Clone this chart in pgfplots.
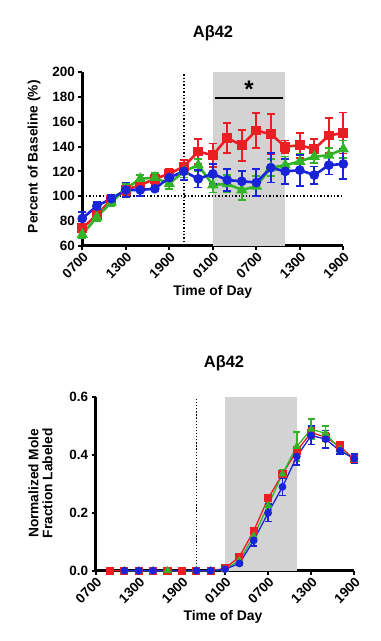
\documentclass[border=0pt]{standalone}
\usepackage{pgfplots}
\usepackage{pgfplotstable}
\pgfplotsset{compat=1.18}
\usepackage{fontspec}
\setmainfont{Liberation Sans}
\definecolor{cred}{RGB}{235,30,35}
\definecolor{cgreen}{RGB}{50,180,40}
\definecolor{cblue}{RGB}{25,35,215}
\definecolor{bandgray}{RGB}{211,211,211}

\pgfplotstableread{
x y e
0 74 3
2 85 3
4 97 3
6 105 4
8 109 3
10 114 5
12 118 4
14 124 5
16 136 10
18 133 9.5
20 147 12
22 141 12.5
24 153 14
26 150 16
28 140 5
30 141 10
32 138 8
34 149 14
36 151 16.5
}\topred
\pgfplotstableread{
x y e
0 69 3
2 83 3
4 95 3
6 106 4
8 114 3
10 115 4
12 110 4
14 120 5
16 125 5
18 109 6
20 110 7
22 105 8
24 108 8
26 123 7
28 125 7
30 128 6
32 132 5
34 133 6
36 138 7
}\topgreen
\pgfplotstableread{
x y e
0 82 5
2 92 3
4 98 3
6 105 6
8 105 5
10 106 2
12 115 6
14 120 7
16 114 7
18 118 8
20 113 9
22 112 8
24 111 11
26 123 12
28 120 10
30 121 12.5
32 117 7
34 125 7.5
36 126 12
}\topblue

\pgfplotstableread{
x y e
2 0 0
4 0 0
6 0 0
8 0 0
10 0 0
12 0 0
14 0 0
16 0 0
18 0.008 0.004
20 0.048 0.005
22 0.138 0.008
24 0.25 0.008
26 0.335 0.01
28 0.415 0.015
30 0.478 0.015
32 0.462 0.015
34 0.43 0.015
36 0.385 0.01
}\botred
\pgfplotstableread{
x y e
4 0 0
6 0 0
8 0 0
10 0 0
14 0 0
16 0 0
18 0.005 0.003
20 0.035 0.005
22 0.12 0.01
24 0.225 0.015
26 0.335 0.015
28 0.43 0.05
30 0.49 0.035
32 0.475 0.025
34 0.42 0.015
36 0.385 0.012
}\botgreen
\pgfplotstableread{
x y e
4 0 0
6 0 0
8 0 0
14 0 0
16 0 0
18 0.005 0.003
20 0.025 0.005
22 0.105 0.02
24 0.2 0.03
26 0.29 0.03
28 0.395 0.03
30 0.468 0.032
32 0.455 0.03
34 0.415 0.012
36 0.388 0.015
}\botblue

\pgfplotsset{
  mystyle/.style={
    scale only axis, clip=false,
    xmin=0, xmax=36,
    axis x line*=bottom, axis y line*=left,
    axis line style={line width=2.6bp, black},
    tick style={line width=2bp, black},
    tick align=outside, major tick length=4bp,
    xtick={0,6,...,36},
    xticklabels={0700,1300,1900,0100,0700,1300,1900},
    x tick label style={rotate=45, anchor=north east, inner sep=1bp},
    tick label style={font=\fontsize{13.5}{13.5}\selectfont\bfseries},
    /pgf/number format/assume math mode=true,
  },
}

\begin{document}
\begin{tikzpicture}[x=1bp,y=1bp]
\useasboundingbox (0,0) rectangle (380,641);

% ---------- top chart ----------
\begin{axis}[mystyle,
  at={(82.3bp,395.3bp)}, anchor=south west,
  width=261bp, height=173.4bp,
  ymin=60, ymax=200, ytick={60,80,...,200},
  error bars/y dir=both, error bars/y explicit,
]
\fill[bandgray] (axis cs:18,60) rectangle (axis cs:28,200);
\draw[black, line width=1.4bp, dash pattern=on 1.4bp off 2bp] (axis cs:14,60) -- (axis cs:14,200);
\draw[black, line width=1.4bp, dash pattern=on 1.4bp off 2bp] (axis cs:0,100) -- (axis cs:36,100);
\draw[black, line width=2bp] (axis cs:18.3,179) -- (axis cs:27.7,179);
\node[font=\fontsize{24}{24}\selectfont\bfseries] at (axis cs:23,186) {*};

\addplot[cred, line width=2.6bp, mark=square*, mark size=3.6bp, mark options={solid},
  error bars/error bar style={line width=1.8bp, cred},
  error bars/error mark options={rotate=90, mark size=4bp, line width=1.8bp, cred}]
  table[x=x, y=y, y error=e] {\topred};
\addplot[cgreen, line width=2.6bp, mark=triangle*, mark size=4bp, mark options={solid},
  error bars/error bar style={line width=1.8bp, cgreen},
  error bars/error mark options={rotate=90, mark size=4bp, line width=1.8bp, cgreen}]
  table[x=x, y=y, y error=e] {\topgreen};
\addplot[cblue, line width=2.6bp, mark=*, mark size=3.5bp, mark options={solid},
  error bars/error bar style={line width=1.8bp, cblue},
  error bars/error mark options={rotate=90, mark size=4bp, line width=1.8bp, cblue}]
  table[x=x, y=y, y error=e] {\topblue};
\end{axis}

\node[font=\fontsize{16.5}{16.5}\selectfont\bfseries] at (213,608) {Aβ42};
\node[font=\fontsize{13.8}{13.8}\selectfont\bfseries, rotate=90] at (34,484.3) {Percent of Baseline (\%)};
\node[font=\fontsize{14}{14}\selectfont\bfseries] at (212.7,349.3) {Time of Day};

% ---------- bottom chart ----------
\begin{axis}[mystyle,
  at={(95.7bp,70.3bp)}, anchor=south west,
  width=258.6bp, height=173.4bp,
  ymin=0, ymax=0.6, ytick={0,0.2,0.4,0.6},
  yticklabel style={/pgf/number format/.cd, fixed, fixed zerofill, precision=1},
  error bars/y dir=both, error bars/y explicit,
]
\fill[bandgray] (axis cs:18,0) rectangle (axis cs:28,0.6);
\draw[black, line width=1.3bp, dash pattern=on 1.3bp off 1.8bp] (axis cs:14,0) -- (axis cs:14,0.6);

\addplot[cred, line width=1.3bp, mark=square*, mark size=3.4bp, mark options={solid},
  error bars/error bar style={line width=1.6bp, cred},
  error bars/error mark options={rotate=90, mark size=3.6bp, line width=1.6bp, cred}]
  table[x=x, y=y, y error=e] {\botred};
\addplot[cgreen, line width=1.3bp, mark=triangle*, mark size=3.6bp, mark options={solid},
  error bars/error bar style={line width=1.6bp, cgreen},
  error bars/error mark options={rotate=90, mark size=3.6bp, line width=1.6bp, cgreen}]
  table[x=x, y=y, y error=e] {\botgreen};
\addplot[cblue, line width=1.3bp, mark=*, mark size=3.2bp, mark options={solid},
  error bars/error bar style={line width=1.6bp, cblue},
  error bars/error mark options={rotate=90, mark size=3.6bp, line width=1.6bp, cblue}]
  table[x=x, y=y, y error=e] {\botblue};
\end{axis}

\node[font=\fontsize{16.5}{16.5}\selectfont\bfseries] at (224,277.7) {Aβ42};
\node[font=\fontsize{13.8}{14}\selectfont\bfseries, rotate=90, align=center] at (40.4,157.7) {Normalized Mole\\Fraction Labeled};
\node[font=\fontsize{14}{14}\selectfont\bfseries] at (223,24.3) {Time of Day};
\end{tikzpicture}
\end{document}
